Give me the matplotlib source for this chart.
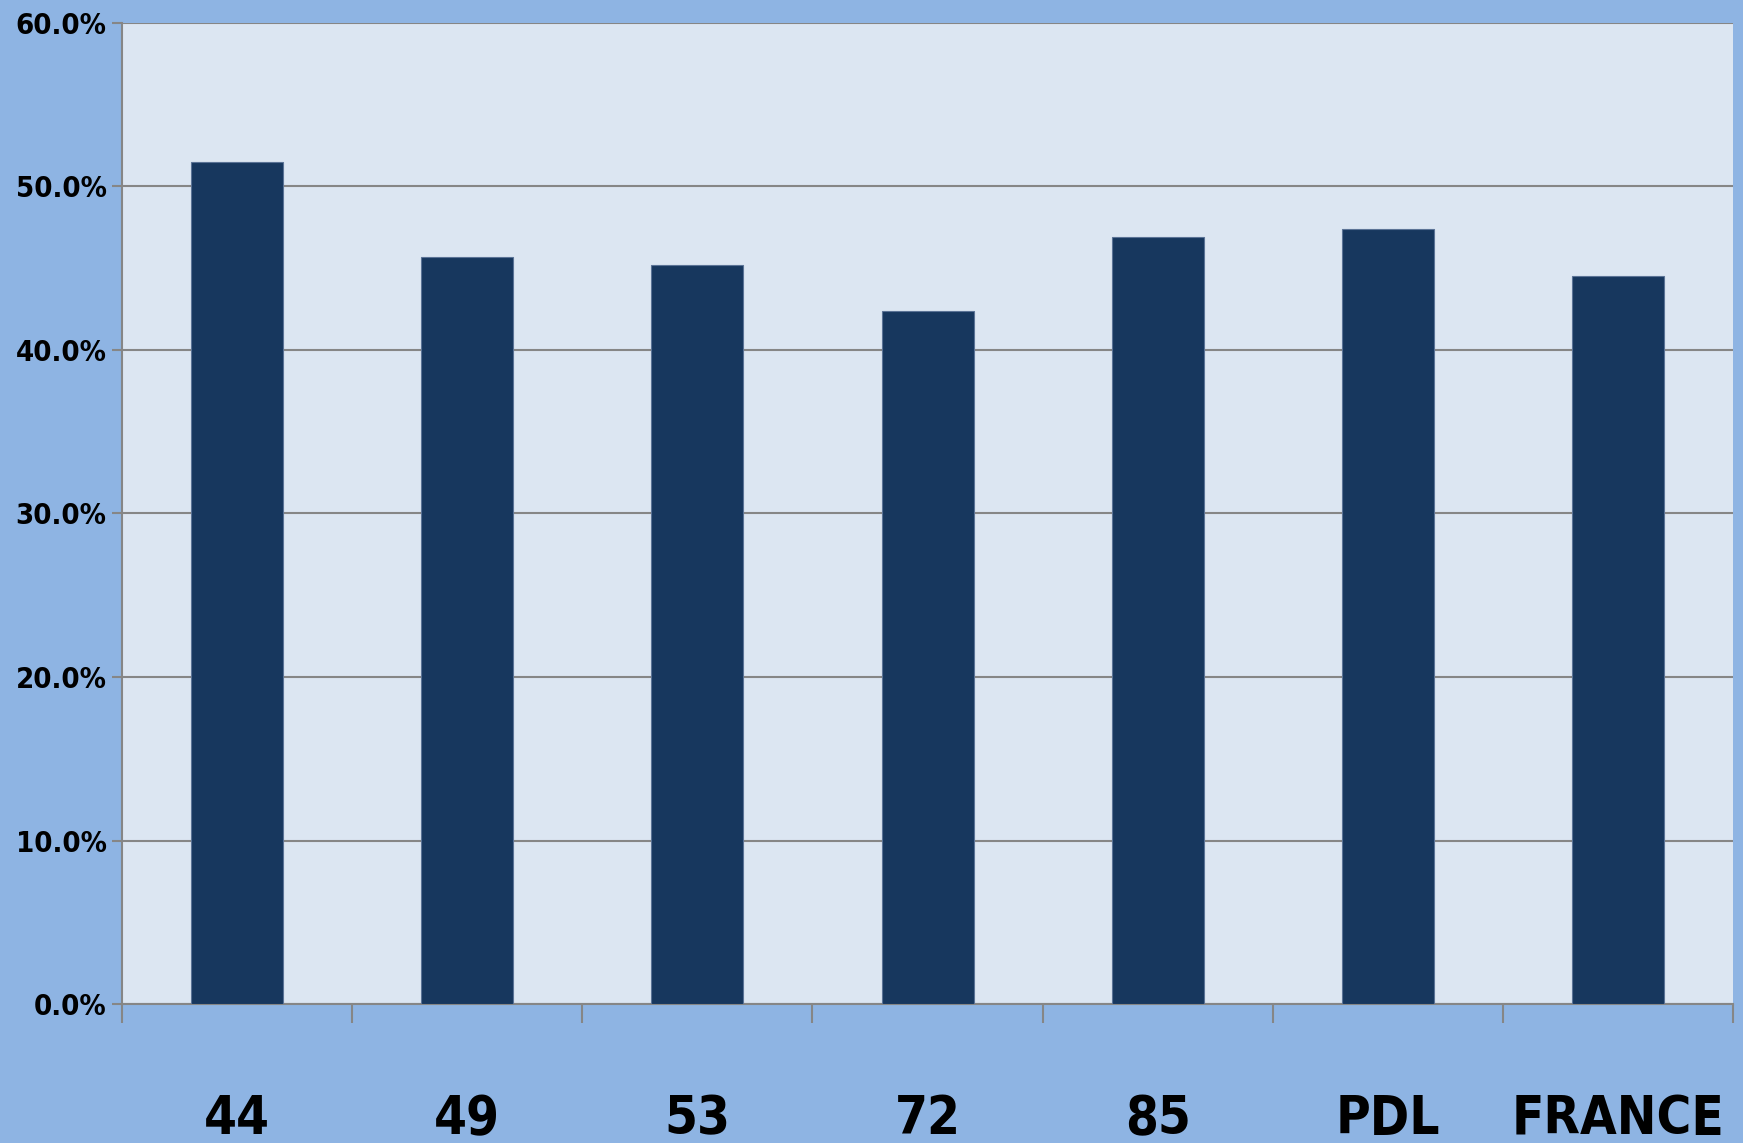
import matplotlib.pyplot as plt
import numpy as np

categories = ["44", "49", "53", "72", "85", "PDL", "FRANCE"]
values = [51.5, 45.7, 45.2, 42.4, 46.9, 47.4, 44.5]
yticks = [0, 10, 20, 30, 40, 50, 60]

plt.rcParams['font.family'] = ['DejaVu Sans']
plt.rcParams['font.stretch'] = 'condensed'
plt.rcParams['font.weight'] = 'bold'

fig = plt.figure(figsize=(17.43, 11.43), dpi=100, facecolor='#8EB4E3')
ax = fig.add_axes([0.070, 0.1216, 0.9243, 0.8583])
ax.set_facecolor('#DCE6F2')

x = np.arange(len(categories))
ax.bar(x, values, width=0.4, color='#17375E', edgecolor='#5B7396', linewidth=0.8, zorder=3)

ax.set_xlim(-0.5, len(categories) - 0.5)
ax.set_ylim(0, 60)
ax.set_yticks(yticks)
ax.set_yticklabels([f"{v:.1f}%" for v in yticks], fontsize=21, fontweight='bold', stretch='condensed')
ax.yaxis.grid(True, color='#868686', linewidth=1.5, zorder=1)

ax.set_xticks(x)
ax.set_xticklabels(categories, fontsize=38, fontweight='bold', stretch='condensed')
ax.set_xticks(np.arange(len(categories) + 1) - 0.5, minor=True)
ax.tick_params(axis='x', which='major', length=0, pad=64)
ax.tick_params(axis='x', which='minor', length=14, width=1.5, color='#868686', direction='out')
ax.tick_params(axis='y', length=7, width=1.5, color='#868686', pad=4)

for s in ['right', 'top']:
    ax.spines[s].set_visible(False)
for s in ['left', 'bottom']:
    ax.spines[s].set_color('#868686')
    ax.spines[s].set_linewidth(1.5)

fig.savefig('out.png', dpi=100, facecolor=fig.get_facecolor())
